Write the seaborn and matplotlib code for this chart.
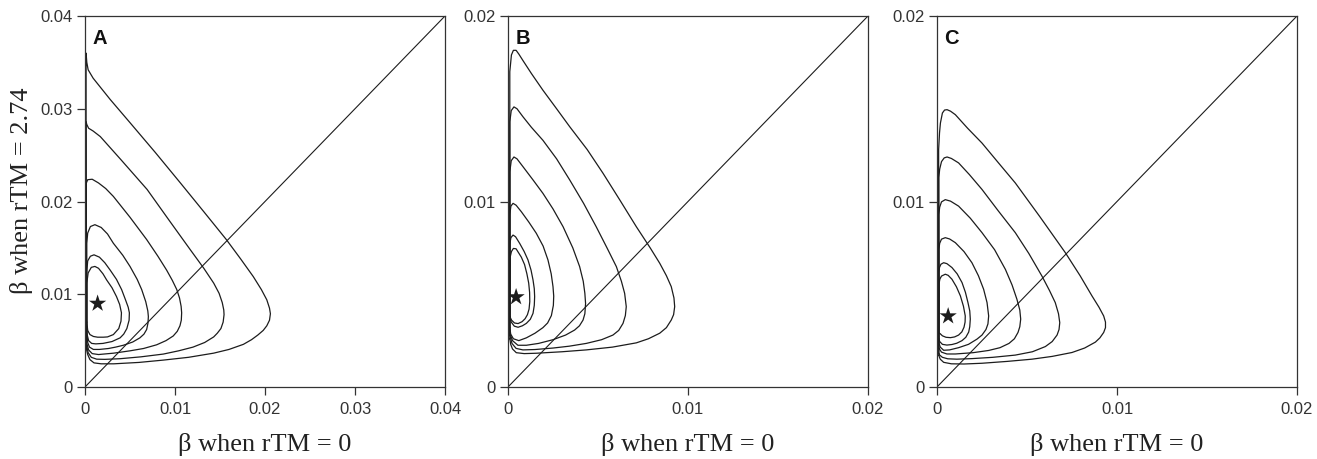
import numpy as np
import pandas as pd
import seaborn as sns
import matplotlib.pyplot as plt

sns.set_style("white")
plt.rcParams['font.family'] = ['Liberation Sans', 'DejaVu Sans']

# Contour traces, in units of 1e-3
# (x = beta when rTM = 0, y = beta when rTM = 2.74), innermost loop first
loops_a = [
    [(0.2, 7.0), (0.2, 11.2), (0.35, 12.3), (0.7, 12.9), (1.1, 13.0), (1.5, 12.8), (2.0, 12.2),
     (2.4, 11.55), (3.0, 10.7), (3.5, 9.75), (3.85, 8.9), (4.05, 8.0), (4.0, 7.1), (3.75, 6.3),
     (3.15, 5.65), (2.5, 5.4), (2.04, 5.37), (1.4, 5.37), (0.93, 5.45), (0.55, 5.65), (0.3, 6.1)],
    [(0.2, 6.5), (0.2, 12.5), (0.3, 13.6), (0.6, 14.1), (1.0, 14.25), (1.6, 14.0), (2.2, 13.4),
     (2.8, 12.6), (3.5, 11.6), (4.07, 10.5), (4.5, 9.4), (4.8, 8.6), (4.93, 8.0), (4.9, 7.2),
     (4.65, 6.3), (4.3, 5.7), (3.9, 5.3), (3.0, 4.9), (2.0, 4.7), (1.2, 4.65), (0.74, 4.7),
     (0.4, 5.0), (0.25, 5.6)],
    [(0.2, 6.0), (0.2, 15.5), (0.3, 16.6), (0.6, 17.3), (1.1, 17.5), (1.8, 17.2), (2.5, 16.5),
     (3.15, 15.5), (4.2, 14.2), (5.0, 13.0), (5.8, 11.6), (6.3, 10.5), (6.75, 9.2), (6.98, 8.2),
     (7.04, 7.6), (7.0, 6.9), (6.85, 6.2), (6.55, 5.7), (6.1, 5.3), (5.3, 4.85), (4.26, 4.5),
     (3.4, 4.3), (2.6, 4.15), (1.6, 4.05), (0.93, 4.05), (0.5, 4.3), (0.3, 4.8)],
    [(0.15, 5.5), (0.15, 22.0), (0.3, 22.35), (0.8, 22.4), (1.5, 22.0), (2.3, 21.4), (3.15, 20.55),
     (5.0, 18.3), (6.85, 15.9), (8.1, 14.1), (9.07, 12.6), (9.7, 11.5), (10.2, 10.5), (10.5, 9.6),
     (10.68, 8.7), (10.74, 8.0), (10.7, 7.2), (10.55, 6.6), (10.25, 6.0), (9.8, 5.5), (9.0, 5.0),
     (7.96, 4.55), (6.5, 4.15), (5.0, 3.9), (3.2, 3.65), (1.5, 3.5), (0.8, 3.6), (0.4, 4.0),
     (0.2, 4.7)],
    [(0.15, 5.0), (0.12, 28.6), (0.2, 28.3), (0.4, 27.9), (0.9, 27.6), (1.7, 27.0), (4.0, 24.5),
     (6.9, 21.3), (9.4, 17.9), (11.7, 14.8), (13.2, 12.8), (14.3, 11.2), (14.9, 10.1), (15.25, 9.1),
     (15.42, 8.3), (15.45, 7.8), (15.35, 7.0), (15.1, 6.3), (14.7, 5.8), (14.3, 5.4), (13.3, 4.8),
     (12.0, 4.3), (10.4, 3.9), (8.7, 3.55), (6.2, 3.25), (3.9, 3.05), (2.2, 2.98), (1.3, 3.0),
     (0.7, 3.2), (0.35, 3.7), (0.2, 4.4)],
    [(0.15, 4.5), (0.12, 20.0), (0.12, 36.0), (0.2, 35.0), (0.35, 34.2), (0.9, 33.3), (2.8, 31.0),
     (5.0, 28.5), (7.8, 25.3), (10.6, 22.0), (13.2, 18.9), (15.7, 15.9), (17.3, 13.8), (18.7, 11.9),
     (19.6, 10.5), (20.2, 9.4), (20.5, 8.5), (20.6, 7.9), (20.5, 7.2), (20.2, 6.6), (19.8, 6.1),
     (19.2, 5.6), (18.5, 5.1), (17.6, 4.6), (16.0, 4.05), (14.3, 3.65), (11.5, 3.2), (8.7, 2.9),
     (6.0, 2.65), (3.2, 2.5), (1.8, 2.5), (1.0, 2.6), (0.55, 2.95), (0.3, 3.5), (0.18, 4.0)],
]

loops_b = [
    [(0.1, 3.8), (0.12, 7.0), (0.19, 7.3), (0.3, 7.47), (0.45, 7.45), (0.74, 7.0), (0.92, 6.6),
     (1.05, 6.1), (1.15, 5.6), (1.2, 5.1), (1.21, 4.6), (1.17, 4.2), (1.08, 3.9), (0.95, 3.68),
     (0.78, 3.52), (0.56, 3.42), (0.36, 3.45), (0.2, 3.6)],
    [(0.1, 3.8), (0.1, 7.7), (0.16, 8.05), (0.28, 8.19), (0.42, 8.1), (0.65, 7.74), (0.9, 7.3),
     (1.11, 6.85), (1.28, 6.3), (1.39, 5.77), (1.46, 5.3), (1.48, 4.87), (1.46, 4.4), (1.39, 3.97),
     (1.24, 3.65), (1.02, 3.43), (0.8, 3.3), (0.56, 3.22), (0.35, 3.28), (0.18, 3.5)],
    [(0.1, 3.2), (0.1, 9.3), (0.16, 9.75), (0.28, 9.9), (0.45, 9.8), (0.74, 9.45), (1.15, 8.9),
     (1.57, 8.29), (1.95, 7.6), (2.22, 6.85), (2.4, 6.1), (2.5, 5.41), (2.54, 4.9), (2.52, 4.4),
     (2.41, 3.85), (2.2, 3.45), (1.94, 3.2), (1.5, 2.9), (1.02, 2.65), (0.6, 2.5), (0.3, 2.6),
     (0.15, 2.85)],
    [(0.1, 2.9), (0.1, 11.6), (0.18, 12.2), (0.33, 12.4), (0.5, 12.3), (0.83, 11.88), (1.4, 11.15),
     (1.94, 10.44), (2.5, 9.6), (3.06, 8.64), (3.6, 7.5), (3.98, 6.49), (4.18, 5.7), (4.27, 5.05),
     (4.31, 4.5), (4.27, 3.95), (4.17, 3.61), (3.97, 3.3), (3.7, 3.07), (3.2, 2.8), (2.5, 2.55),
     (1.7, 2.35), (1.02, 2.25), (0.55, 2.25), (0.25, 2.5)],
    [(0.1, 2.8), (0.1, 14.3), (0.18, 14.9), (0.33, 15.1), (0.5, 15.0), (0.83, 14.57), (1.3, 14.0),
     (1.94, 13.3), (2.7, 12.3), (3.43, 11.16), (4.2, 9.9), (4.9, 8.64), (5.5, 7.5), (6.02, 6.49),
     (6.3, 5.7), (6.48, 5.05), (6.57, 4.33), (6.52, 3.85), (6.39, 3.43), (6.15, 3.05), (5.83, 2.8),
     (5.2, 2.55), (4.35, 2.35), (3.4, 2.2), (2.5, 2.1), (1.5, 2.02), (0.83, 2.0), (0.45, 2.08),
     (0.22, 2.35)],
    [(0.1, 2.6), (0.1, 17.0), (0.19, 17.9), (0.3, 18.15), (0.45, 18.15), (0.6, 17.95), (0.83, 17.6),
     (1.3, 16.9), (1.94, 16.0), (2.7, 15.0), (3.43, 14.03), (4.4, 12.8), (5.28, 11.52), (6.2, 10.1),
     (7.13, 8.64), (7.9, 7.5), (8.43, 6.67), (8.8, 6.0), (9.07, 5.41), (9.22, 4.8), (9.26, 4.33),
     (9.2, 3.9), (9.07, 3.61), (8.8, 3.2), (8.43, 2.9), (7.8, 2.6), (7.13, 2.38), (5.8, 2.15),
     (4.35, 2.0), (3.0, 1.9), (1.57, 1.82), (0.9, 1.8), (0.46, 1.85), (0.25, 2.05), (0.15, 2.3)],
]

loops_c = [
    [(0.1, 2.9), (0.12, 5.6), (0.16, 5.82), (0.25, 5.98), (0.46, 6.08), (0.62, 6.02), (0.83, 5.81),
     (1.08, 5.4), (1.3, 4.91), (1.47, 4.35), (1.57, 3.83), (1.56, 3.5), (1.5, 3.22), (1.38, 2.97),
     (1.2, 2.8), (0.98, 2.7), (0.75, 2.66), (0.5, 2.68), (0.3, 2.76), (0.17, 2.88)],
    [(0.1, 2.6), (0.1, 6.2), (0.14, 6.45), (0.22, 6.62), (0.37, 6.7), (0.55, 6.65), (0.83, 6.44),
     (1.12, 6.1), (1.39, 5.63), (1.58, 5.1), (1.72, 4.55), (1.82, 4.1), (1.85, 3.66), (1.82, 3.25),
     (1.76, 2.96), (1.6, 2.68), (1.39, 2.5), (1.1, 2.36), (0.83, 2.29), (0.55, 2.26), (0.3, 2.3),
     (0.15, 2.45)],
    [(0.1, 2.4), (0.1, 7.4), (0.15, 7.75), (0.25, 7.97), (0.46, 8.05), (0.7, 7.98), (1.02, 7.78),
     (1.5, 7.3), (1.94, 6.7), (2.3, 6.0), (2.59, 5.27), (2.78, 4.55), (2.87, 3.83), (2.83, 3.4),
     (2.72, 3.1), (2.5, 2.8), (2.22, 2.58), (1.75, 2.3), (1.2, 2.12), (0.7, 2.0), (0.37, 1.98),
     (0.18, 2.15)],
    [(0.1, 2.1), (0.1, 9.3), (0.15, 9.7), (0.25, 9.98), (0.46, 10.1), (0.75, 10.02), (1.2, 9.75),
     (1.85, 9.1), (2.5, 8.32), (3.2, 7.4), (3.8, 6.34), (4.17, 5.5), (4.44, 4.73), (4.6, 4.15),
     (4.65, 3.66), (4.6, 3.25), (4.5, 2.94), (4.3, 2.6), (4.0, 2.35), (3.5, 2.12), (2.87, 1.97),
     (2.0, 1.85), (1.02, 1.78), (0.55, 1.78), (0.25, 1.88)],
    [(0.1, 1.8), (0.1, 11.3), (0.15, 11.75), (0.25, 12.15), (0.4, 12.35), (0.56, 12.4), (0.8, 12.32),
     (1.2, 12.08), (1.8, 11.45), (2.5, 10.65), (3.4, 9.5), (4.35, 8.32), (5.1, 7.2), (5.83, 5.98),
     (6.25, 5.2), (6.57, 4.55), (6.75, 3.95), (6.82, 3.47), (6.78, 3.1), (6.67, 2.8), (6.4, 2.45),
     (6.02, 2.18), (5.3, 1.9), (4.35, 1.72), (3.1, 1.6), (1.94, 1.53), (1.1, 1.5), (0.6, 1.52),
     (0.3, 1.6), (0.15, 1.72)],
    [(0.1, 1.7), (0.09, 12.8), (0.14, 13.7), (0.19, 14.23), (0.3, 14.77), (0.42, 14.93), (0.56, 14.95),
     (0.75, 14.87), (1.02, 14.68), (1.7, 13.95), (2.5, 13.15), (3.4, 12.1), (4.35, 11.0), (5.7, 9.2),
     (7.13, 7.24), (7.95, 6.0), (8.61, 4.91), (9.0, 4.3), (9.26, 3.83), (9.36, 3.5), (9.36, 3.2),
     (9.26, 2.94), (9.05, 2.65), (8.8, 2.42), (8.2, 2.1), (7.5, 1.86), (6.4, 1.65), (5.28, 1.5),
     (3.9, 1.38), (2.5, 1.28), (1.5, 1.24), (0.8, 1.25), (0.37, 1.33), (0.18, 1.5)],
]

panel_names = ["A", "B", "C"]
panel_limits = [0.04, 0.02, 0.02]
panel_ticks = [[0, 0.01, 0.02, 0.03, 0.04], [0, 0.01, 0.02], [0, 0.01, 0.02]]
panel_ticklabels = [["0", "0.01", "0.02", "0.03", "0.04"], ["0", "0.01", "0.02"], ["0", "0.01", "0.02"]]
star_x = [1.4, 0.45, 0.62]
star_y = [9.0, 4.85, 3.82]

x_label = "β when rTM = 0"
y_label = "β when rTM = 2.74"


def loops_frame(loops):
    rows = []
    for i, loop in enumerate(loops):
        for x, y in loop + [loop[0]]:
            rows.append((i, x * 1e-3, y * 1e-3))
    return pd.DataFrame(rows, columns=["loop", "x", "y"])


ink = "#1c1c1c"
fig = plt.figure(figsize=(13.17, 4.59), dpi=100)
lefts = [85 / 1317, 508 / 1317, 937 / 1317]

for k, loops in enumerate([loops_a, loops_b, loops_c]):
    ax = fig.add_axes([lefts[k], 72 / 459, 360 / 1317, 371 / 459])
    lim = panel_limits[k]
    df = loops_frame(loops)
    sns.lineplot(data=df, x="x", y="y", units="loop", estimator=None, sort=False,
                 color=ink, lw=0.9, ax=ax, legend=False)
    sns.lineplot(x=[0, lim], y=[0, lim], color=ink, lw=0.8, ax=ax, legend=False)
    sns.scatterplot(x=[star_x[k] * 1e-3], y=[star_y[k] * 1e-3], marker="*", s=170,
                    color=ink, edgecolor="none", ax=ax, legend=False)

    ax.set_xlim(0, lim)
    ax.set_ylim(0, lim)
    ax.set_xticks(panel_ticks[k])
    ax.set_xticklabels(panel_ticklabels[k])
    ax.set_yticks(panel_ticks[k])
    ax.set_yticklabels(panel_ticklabels[k])
    ax.tick_params(axis="both", direction="out", length=6, width=0.9, colors="#333333",
                   labelsize=12, left=True, bottom=True)
    ax.tick_params(axis="x", pad=5)
    ax.tick_params(axis="y", pad=3)
    for s in ax.spines.values():
        s.set_color("#333333")
        s.set_linewidth(0.9)

    ax.set_xlabel(x_label, family="Liberation Serif", fontsize=19, color="#222222", labelpad=11)
    if k == 0:
        ax.set_ylabel(y_label, family="Liberation Serif", fontsize=19, color="#222222")
        ax.yaxis.set_label_coords(-0.145, 0.53)
    else:
        ax.set_ylabel("")

    ax.text(0.02, 0.965, panel_names[k], transform=ax.transAxes, ha="left", va="top",
            fontsize=14.5, fontweight="bold", color="#111111")

fig.savefig("out.png", dpi=100)
